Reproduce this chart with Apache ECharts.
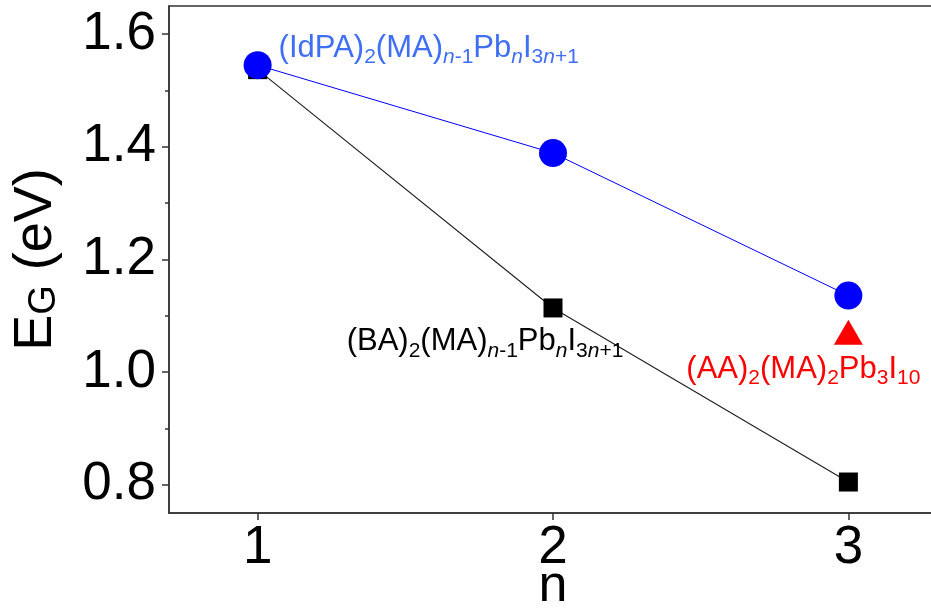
<!DOCTYPE html>
<html>
<head>
<meta charset="utf-8">
<script src="https://cdn.jsdelivr.net/npm/echarts@6/dist/echarts.min.js"></script>
<style>
  html, body { margin: 0; padding: 0; background: #fff; }
  #chart { width: 931px; height: 609px; }
</style>
</head>
<body>
<div id="chart"></div>
<script>
// Band gap vs. layer number n for three 2D perovskite families
const nValues = [1, 2, 3];
const idpaGap = [1.545, 1.389, 1.136];   // (IdPA)2(MA)n-1PbnI3n+1
const baGap = [1.537, 1.114, 0.805];     // (BA)2(MA)n-1PbnI3n+1
const aaN = [3];
const aaGap = [1.071];                   // (AA)2(MA)2Pb3I10

const xTicks = [1, 2, 3];
const yTicks = [0.8, 1.0, 1.2, 1.4, 1.6];
const yMinorTicks = [0.9, 1.1, 1.3, 1.5];

const FONT = 'Liberation Sans';
const AXIS_COLOR = '#333';

// rich-text styles for chemical formulas with subscripts
function formulaRich(color, F, S, pad) {
  const main = { fontFamily: FONT, fontSize: F, color: color, verticalAlign: 'top' };
  const sub = { fontFamily: FONT, fontSize: S, color: color, verticalAlign: 'top', padding: [pad, 0, 0, 0] };
  return {
    m: main,
    s: sub,
    si: Object.assign({}, sub, { fontStyle: 'italic' })
  };
}

const idpaText = '{m|(IdPA)}{s|2}{m|(MA)}{si|n}{s|-1}{m|Pb}{si|n}{m|I}{s|3}{si|n}{s|+1}';
const baText = '{m|(BA)}{s|2}{m|(MA)}{si|n}{s|-1}{m|Pb}{si|n}{m|I}{s|3}{si|n}{s|+1}';
const aaText = '{m|(AA)}{s|2}{m|(MA)}{s|2}{m|Pb}{s|3}{m|I}{s|10}';

const chart = echarts.init(document.getElementById('chart'), null, { renderer: 'canvas' });

const option = {
  animation: false,
  backgroundColor: '#fff',
  grid: {
    left: 169, top: 6, right: -6, bottom: 96,
    outerBoundsMode: 'none', containLabel: false,
    show: true, borderColor: AXIS_COLOR, borderWidth: 1.5, backgroundColor: 'transparent'
  },
  xAxis: {
    type: 'value', min: 0.7, max: 3.3,
    name: 'n', nameLocation: 'middle', nameGap: 48, nameMoveOverlap: false,
    nameTextStyle: { fontFamily: FONT, fontSize: 52, color: '#000' },
    axisLine: { show: true, lineStyle: { color: AXIS_COLOR, width: 1.5 } },
    axisTick: { show: true, inside: false, length: 7, customValues: xTicks, lineStyle: { color: AXIS_COLOR, width: 1.5 } },
    axisLabel: { customValues: xTicks, margin: 9, fontFamily: FONT, fontSize: 53, color: '#000',
      formatter: v => String(v) },
    splitLine: { show: false }
  },
  yAxis: [{
    type: 'value', min: 0.75, max: 1.65, position: 'left',
    name: '{m|E}{s|G}{m| (eV)}', nameLocation: 'middle', nameGap: 105, nameRotate: 90, nameMoveOverlap: false,
    nameTextStyle: {
      rich: {
        m: { fontFamily: FONT, fontSize: 54, color: '#000', verticalAlign: 'top' },
        s: { fontFamily: FONT, fontSize: 38, color: '#000', verticalAlign: 'top', padding: [17, 0, 0, 0] }
      }
    },
    axisLine: { show: true, lineStyle: { color: AXIS_COLOR, width: 1.5 } },
    axisTick: { show: true, inside: false, length: 7, customValues: yTicks, lineStyle: { color: AXIS_COLOR, width: 1.5 } },
    axisLabel: { customValues: yTicks, margin: 13, fontFamily: FONT, fontSize: 53, color: '#000',
      formatter: v => Number(v).toFixed(1) },
    splitLine: { show: false }
  }, {
    // minor ticks between the labelled values
    type: 'value', min: 0.75, max: 1.65, position: 'left', offset: 0,
    axisLine: { show: false },
    axisTick: { show: true, inside: false, length: 4, customValues: yMinorTicks, lineStyle: { color: AXIS_COLOR, width: 1.5 } },
    axisLabel: { show: false },
    splitLine: { show: false }
  }],
  series: [
    {
      name: 'BA',
      type: 'line',
      yAxisIndex: 0,
      symbol: 'rect', symbolSize: 19,
      itemStyle: { color: '#000' },
      lineStyle: { color: '#222', width: 1.2 },
      emphasis: { disabled: true },
      z: 2,
      data: nValues.map((n, i) => ({
        value: [n, baGap[i]],
        label: i === 1 ? {
          show: true, position: 'bottom', distance: 9, offset: [-68, 0],
          formatter: baText, rich: formulaRich('#000', 31, 21, 14)
        } : { show: false }
      }))
    },
    {
      name: 'IdPA',
      type: 'line',
      yAxisIndex: 0,
      symbol: 'circle', symbolSize: 28,
      itemStyle: { color: '#0000ff' },
      lineStyle: { color: '#0000ff', width: 1 },
      emphasis: { disabled: true },
      z: 3,
      data: nValues.map((n, i) => ({
        value: [n, idpaGap[i]],
        label: i === 0 ? {
          show: true, position: 'right', distance: 7, offset: [0, -15],
          formatter: idpaText, rich: formulaRich('#3f6ff5', 31, 21, 14)
        } : { show: false }
      }))
    },
    {
      name: 'AA',
      type: 'scatter',
      yAxisIndex: 0,
      symbol: 'triangle', symbolSize: [29, 25],
      itemStyle: { color: '#ff0000', opacity: 1 },
      emphasis: { disabled: true },
      z: 3,
      data: aaN.map((n, i) => ({
        value: [n, aaGap[i]],
        label: {
          show: true, position: 'bottom', distance: 9, offset: [-45, 0],
          formatter: aaText, rich: formulaRich('#ff0000', 31, 21, 14)
        }
      }))
    }
  ]
};

chart.setOption(option);
</script>
</body>
</html>
